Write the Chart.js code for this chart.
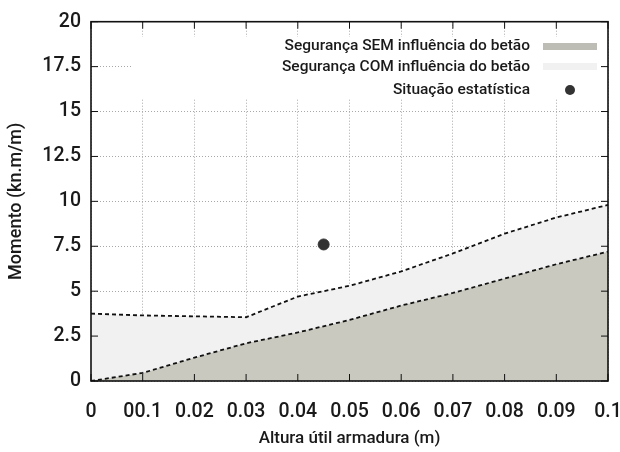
<!DOCTYPE html>
<html>
<head>
<meta charset="utf-8">
<script src="https://cdn.jsdelivr.net/npm/chart.js@4/dist/chart.umd.min.js"></script>
<style>
  html, body { margin: 0; padding: 0; background: #fff; }
  #wrap { width: 620px; height: 452px; }
</style>
</head>
<body>
<div id="wrap"><canvas id="grafico"></canvas></div>
<script>
const alturas = [0, 0.01, 0.02, 0.03, 0.04, 0.05, 0.06, 0.07, 0.08, 0.09, 0.1];
const semBetao = [0, 0.45, 1.3, 2.1, 2.7, 3.4, 4.2, 4.9, 5.7, 6.5, 7.2];
const comBetao = [3.75, 3.65, 3.6, 3.55, 4.7, 5.3, 6.1, 7.1, 8.2, 9.1, 9.8];
const situacao = [{ x: 0.045, y: 7.6 }];
const xTickLabels = ['0', '00.1', '0.02', '0.03', '0.04', '0.05', '0.06', '0.07', '0.08', '0.09', '0.1'];
const yTickLabels = ['0', '2.5', '5', '7.5', '10', '12.5', '15', '17.5', '20'];
const labels = ['Segurança SEM influência do betão', 'Segurança COM influência do betão', 'Situação estatística'];

const FONT = "Roboto, 'DejaVu Sans Condensed', sans-serif";
const TXT = '#1a1a1a';
const GRAY = '#c9c9bf';
const LIGHT = '#f1f1f1';

// legend box inside the plot, text right-aligned, sample on the right
const legendaPlugin = {
    id: 'legenda',
    afterDatasetsDraw(chart) {
        const ctx = chart.ctx;
        ctx.save();
        ctx.fillStyle = '#fff';
        ctx.fillRect(133, 37, 467, 61);
        ctx.font = '500 15.5px ' + FONT;
        ctx.fillStyle = TXT;
        ctx.textAlign = 'right';
        ctx.textBaseline = 'middle';
        const rows = [46, 67, 90];
        labels.forEach((t, i) => ctx.fillText(t, 530, rows[i]));
        ctx.fillStyle = '#bdbdb5';
        ctx.fillRect(543, 43, 54, 7);
        ctx.fillStyle = LIGHT;
        ctx.fillRect(543, 63, 54, 7);
        ctx.fillStyle = '#333';
        ctx.beginPath();
        ctx.arc(570, 90, 5, 0, Math.PI * 2);
        ctx.fill();
        ctx.restore();
    }
};

// frame + inward ticks on all four sides (gnuplot look)
const molduraPlugin = {
    id: 'moldura',
    afterDraw(chart) {
        const { ctx, chartArea: a, scales } = chart;
        ctx.save();
        ctx.strokeStyle = '#111';
        ctx.lineWidth = 1.6;
        ctx.strokeRect(a.left, a.top, a.right - a.left, a.bottom - a.top);
        ctx.lineWidth = 1;
        const len = 7;
        scales.x.ticks.forEach(t => {
            const px = scales.x.getPixelForValue(t.value);
            ctx.beginPath();
            ctx.moveTo(px, a.bottom); ctx.lineTo(px, a.bottom - len);
            ctx.moveTo(px, a.top); ctx.lineTo(px, a.top + len);
            ctx.stroke();
        });
        scales.y.ticks.forEach(t => {
            const py = scales.y.getPixelForValue(t.value);
            ctx.beginPath();
            ctx.moveTo(a.left, py); ctx.lineTo(a.left + len, py);
            ctx.moveTo(a.right, py); ctx.lineTo(a.right - len, py);
            ctx.stroke();
        });
        ctx.restore();
    }
};

new Chart(document.getElementById('grafico'), {
    type: 'line',
    data: {
        datasets: [
            {
                label: labels[0],
                data: alturas.map((x, i) => ({ x: x, y: semBetao[i] })),
                borderColor: '#111',
                borderWidth: 1.8,
                borderDash: [4, 3],
                backgroundColor: GRAY,
                fill: 'origin',
                pointRadius: 0,
                tension: 0
            },
            {
                label: labels[1],
                data: alturas.map((x, i) => ({ x: x, y: comBetao[i] })),
                borderColor: '#111',
                borderWidth: 1.8,
                borderDash: [4, 3],
                backgroundColor: LIGHT,
                fill: '-1',
                pointRadius: 0,
                tension: 0
            },
            {
                type: 'scatter',
                label: labels[2],
                data: situacao,
                backgroundColor: '#333',
                borderColor: '#333',
                pointRadius: 5.5
            }
        ]
    },
    options: {
        responsive: true,
        maintainAspectRatio: false,
        animation: false,
        layout: { padding: { top: 19, right: 12, left: 0, bottom: 0 } },
        plugins: {
            legend: { display: false },
            tooltip: { enabled: false }
        },
        scales: {
            x: {
                type: 'linear',
                min: 0,
                max: 0.1,
                afterFit(scale) {
                    scale.height = 71;
                    scale.paddingLeft = 0;
                    scale.paddingRight = 0;
                },
                afterBuildTicks(scale) {
                    scale.ticks = alturas.map(v => ({ value: v }));
                },
                ticks: {
                    padding: 19,
                    color: TXT,
                    font: { family: FONT, size: 19.5, weight: 500 },
                    maxRotation: 0,
                    autoSkip: false,
                    callback: (v, i) => xTickLabels[i]
                },
                grid: { color: '#a8a8a8', lineWidth: 1, drawTicks: false },
                border: { display: false, dash: [1, 2] },
                title: {
                    display: true,
                    text: 'Altura útil armadura (m)',
                    color: TXT,
                    font: { family: FONT, size: 17, weight: 500 },
                    padding: { top: 0, bottom: 3 }
                }
            },
            y: {
                type: 'linear',
                min: 0,
                max: 20,
                afterFit(scale) { scale.width = 91; },
                afterBuildTicks(scale) {
                    scale.ticks = yTickLabels.map(v => ({ value: parseFloat(v) }));
                },
                ticks: {
                    padding: 10,
                    color: TXT,
                    font: { family: FONT, size: 19.5, weight: 500 },
                    autoSkip: false,
                    callback: (v, i) => yTickLabels[i]
                },
                grid: { color: '#a8a8a8', lineWidth: 1, drawTicks: false },
                border: { display: false, dash: [1, 2] },
                title: {
                    display: true,
                    text: 'Momento (kn.m/m)',
                    color: TXT,
                    font: { family: FONT, size: 18, weight: 500 },
                    padding: { top: 6, bottom: 0 }
                }
            }
        }
    },
    plugins: [legendaPlugin, molduraPlugin]
});
</script>
</body>
</html>
